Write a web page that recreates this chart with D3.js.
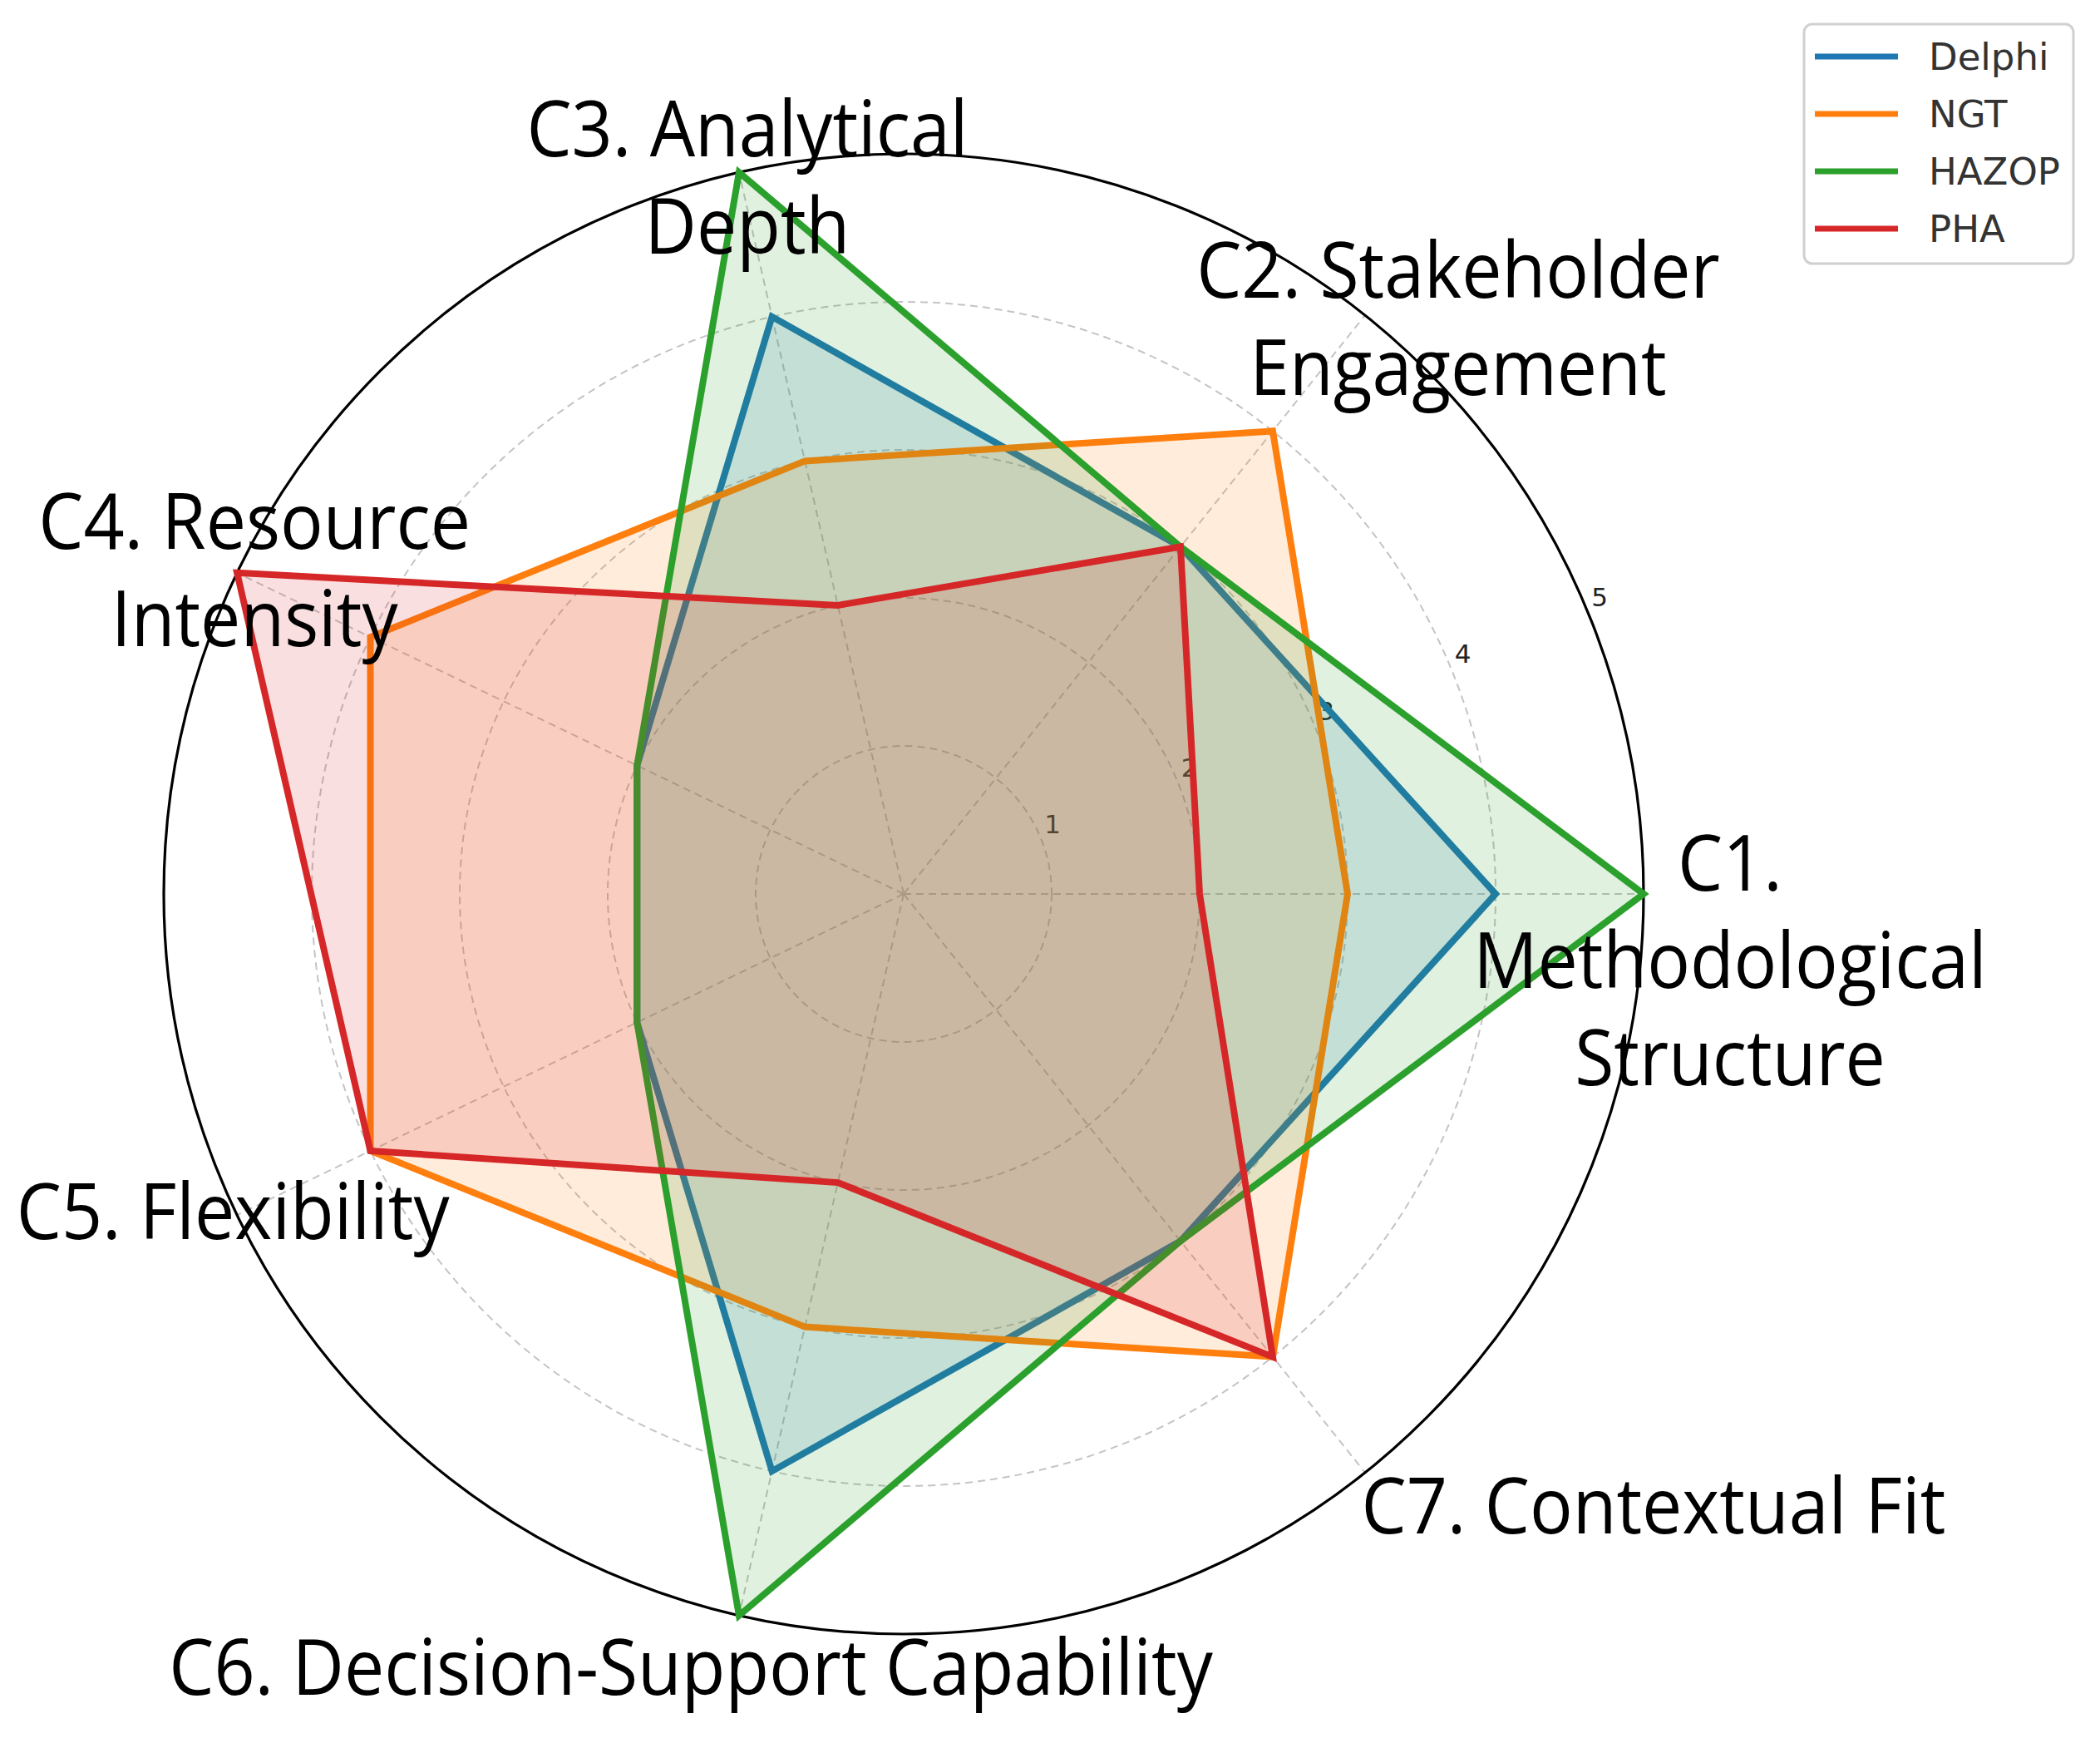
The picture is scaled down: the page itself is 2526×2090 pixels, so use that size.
<!DOCTYPE html>
<html><head><meta charset="utf-8">
<script src="https://cdn.jsdelivr.net/npm/d3@7"></script>
<style>body{margin:0;background:#fff}</style>
</head><body>
<svg id="chart" width="2526" height="2090" xmlns="http://www.w3.org/2000/svg"></svg>
<script>
// ---- data ----
const categories = [
  ["C1.", "Methodological", "Structure"],
  ["C2. Stakeholder", "Engagement"],
  ["C3. Analytical", "Depth"],
  ["C4. Resource", "Intensity"],
  ["C5. Flexibility"],
  ["C6. Decision-Support Capability"],
  ["C7. Contextual Fit"]
];
const seriesNames = ["Delphi", "NGT", "HAZOP", "PHA"];
const delphi = [4, 3, 4, 2, 2, 4, 3];
const ngt    = [3, 4, 3, 4, 4, 3, 4];
const hazop  = [5, 3, 5, 2, 2, 5, 3];
const pha    = [2, 3, 2, 5, 4, 2, 4];
const radialTicks = [1, 2, 3, 4, 5];

// ---- layout / style ----
const colors = ["#1f77b4", "#ff7f0e", "#2ca02c", "#d62728"];
const cx = 1087, cy = 1075, R = 890;
const labelOffsets = [[104,-4],[112,-21],[10,-19],[21,-29],[-5,29],[-58,95],[347,73]];
const labelLineH = 117;
const labelFont = 94, labelSX = 0.915;

const series = [delphi, ngt, hazop, pha];
const svg = d3.select("#chart");
const n = categories.length;
const r = d3.scaleLinear().domain([0, 5]).range([0, R]);
const ang = d3.scaleLinear().domain([0, n]).range([0, 2 * Math.PI]);
const px = (i, v) => cx + r(v) * Math.cos(ang(i));
const py = (i, v) => cy - r(v) * Math.sin(ang(i));

const grid = svg.append("g");
// gridline circles
grid.selectAll("circle.g").data(radialTicks.filter(t => t < 5)).join("circle")
  .attr("cx", cx).attr("cy", cy).attr("r", d => r(d))
  .attr("fill", "none").attr("stroke", "#c4c4c4").attr("stroke-width", 2)
  .attr("stroke-dasharray", "9,6");
// spokes
grid.selectAll("line.s").data(d3.range(n)).join("line")
  .attr("x1", cx).attr("y1", cy)
  .attr("x2", i => px(i, 5)).attr("y2", i => py(i, 5))
  .attr("stroke", "#c4c4c4").attr("stroke-width", 2).attr("stroke-dasharray", "9,6");
// outer circle
grid.append("circle").attr("cx", cx).attr("cy", cy).attr("r", r(5))
  .attr("fill", "none").attr("stroke", "#000").attr("stroke-width", 3.2);

// radial tick labels at 22.5deg
const tickAng = 22.5 * Math.PI / 180;
grid.selectAll("text.t").data(radialTicks).join("text")
  .attr("x", d => cx + (r(d) + 16) * Math.cos(tickAng))
  .attr("y", d => cy - (r(d) + 16) * Math.sin(tickAng) - 10)
  .attr("text-anchor", "middle").attr("dominant-baseline", "central")
  .attr("font-family", "DejaVu Sans").attr("font-size", 31).attr("fill", "#222")
  .text(d => d);

// series
const line = d3.line().x(d => px(d.i, d.v)).y(d => py(d.i, d.v)).curve(d3.curveLinearClosed);
series.forEach((vals, k) => {
  const pts = vals.map((v, i) => ({ i, v }));
  svg.append("path").attr("d", line(pts))
    .attr("fill", colors[k]).attr("fill-opacity", 0.15).attr("stroke", "none");
  svg.append("path").attr("d", line(pts))
    .attr("fill", "none").attr("stroke", colors[k]).attr("stroke-width", 8)
    .attr("stroke-linejoin", "miter");
});

// category labels
categories.forEach((lines, i) => {
  const x0 = px(i, 5) + labelOffsets[i][0];
  const y0 = py(i, 5) + labelOffsets[i][1];
  lines.forEach((t, j) => {
    svg.append("text")
      .attr("transform", `translate(${x0},${y0 + j * labelLineH}) scale(${labelSX},1)`)
      .attr("text-anchor", "middle")
      .attr("font-family", "Open Sans").attr("font-size", labelFont).attr("fill", "#000")
      .text(t);
  });
});

// legend
const lg = svg.append("g").attr("transform", "translate(2170,29)");
lg.append("rect").attr("width", 324).attr("height", 288).attr("rx", 10)
  .attr("fill", "#fff").attr("fill-opacity", 0.8)
  .attr("stroke", "#d0d0d0").attr("stroke-width", 3);
seriesNames.forEach((name, k) => {
  const y = 39 + k * 69;
  lg.append("line").attr("x1", 13).attr("x2", 113).attr("y1", y).attr("y2", y)
    .attr("stroke", colors[k]).attr("stroke-width", 7);
  lg.append("text").attr("x", 150).attr("y", y).attr("dominant-baseline", "central")
    .attr("font-family", "DejaVu Sans").attr("font-size", 45).attr("fill", "#333")
    .text(name);
});
</script>
</body></html>
